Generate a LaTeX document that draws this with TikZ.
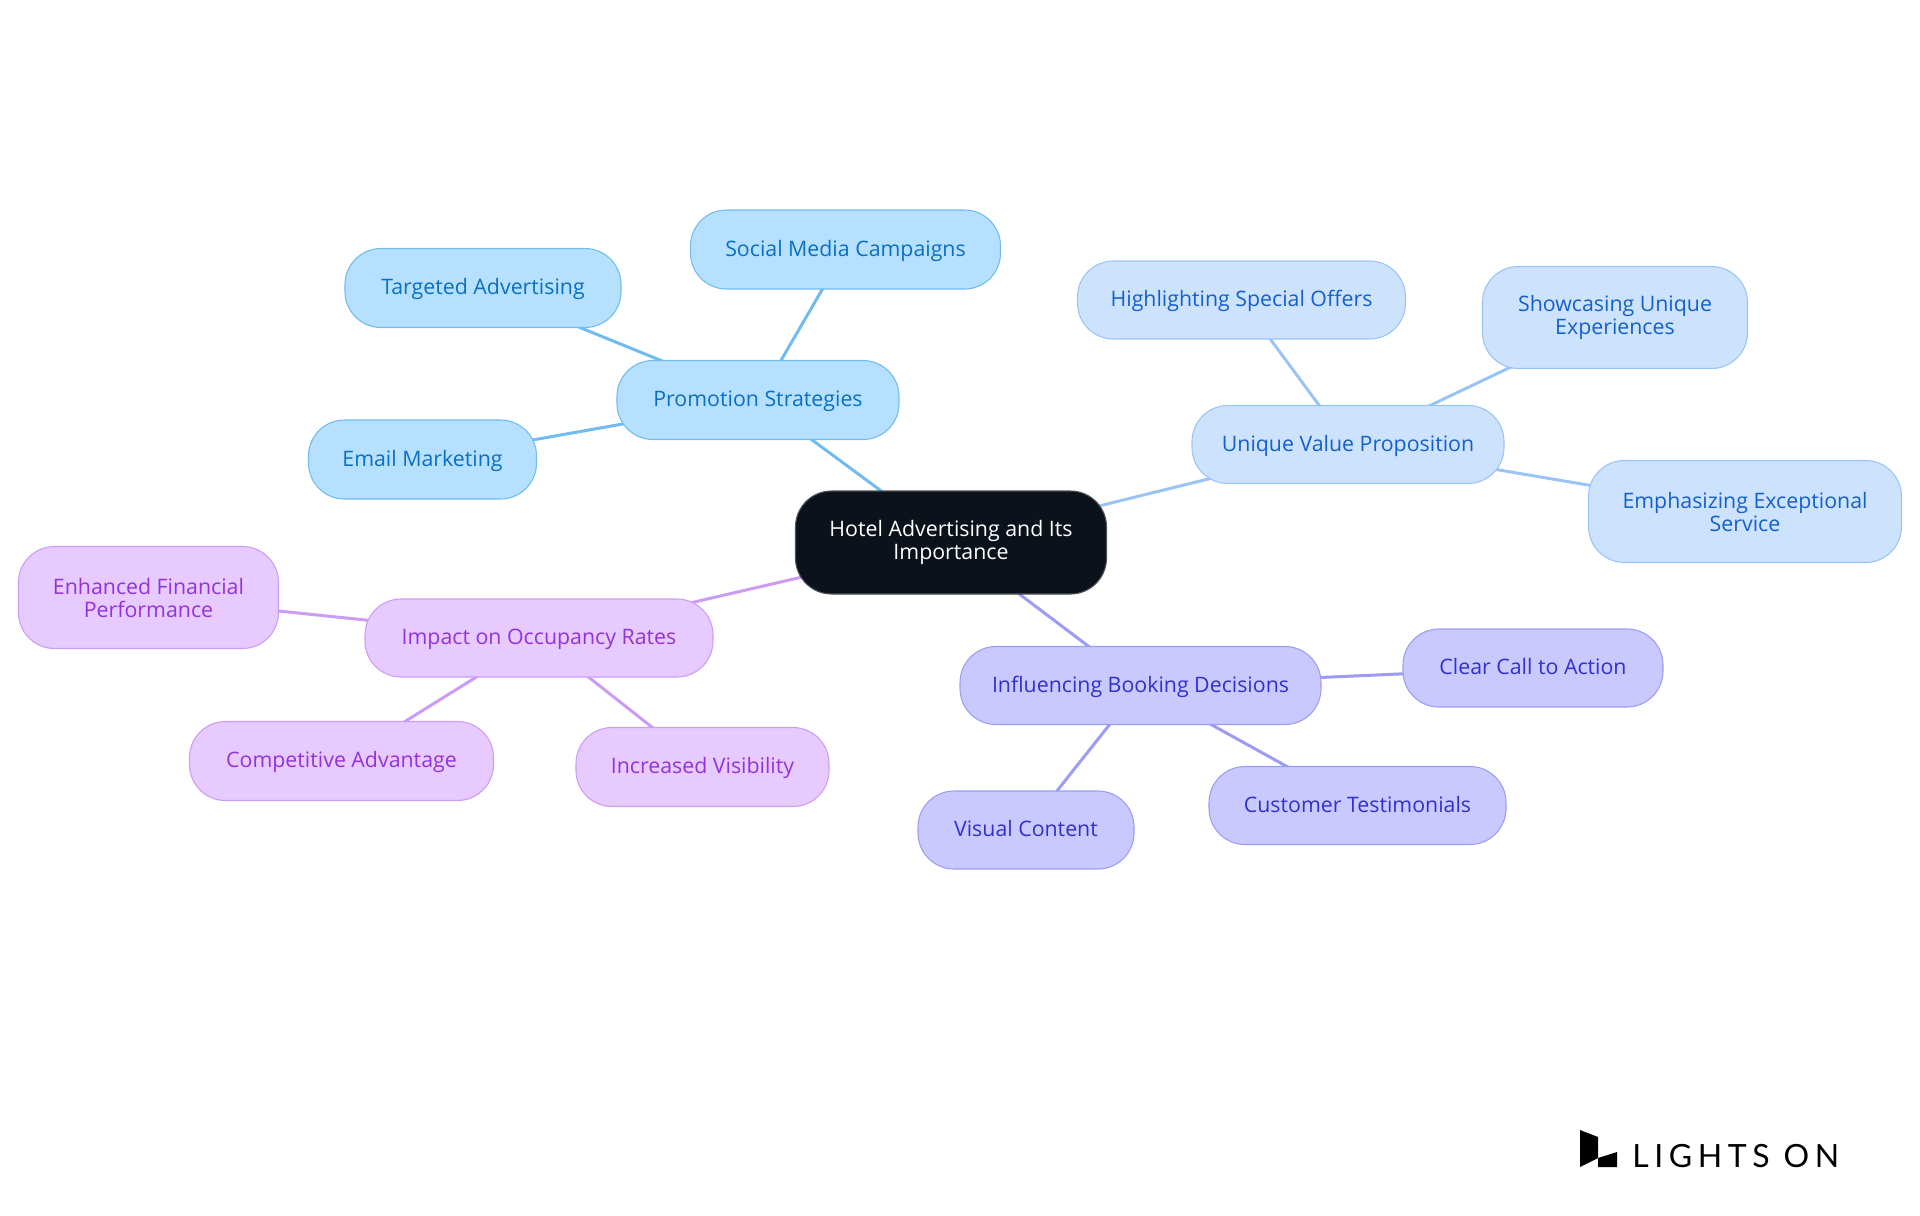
\documentclass[tikz,border=0pt]{standalone}
\usepackage{fontspec}
\setmainfont{Open Sans}
\newfontfamily\logofont[LetterSpace=17.5]{Lato}
\usetikzlibrary{backgrounds}

\definecolor{rootfill}{HTML}{0C121B}
\definecolor{rootline}{HTML}{4D5258}
\definecolor{promofill}{HTML}{B5E0FF}
\definecolor{promoline}{HTML}{70BCEE}
\definecolor{promotext}{HTML}{0B6FC2}
\definecolor{valuefill}{HTML}{CCE2FD}
\definecolor{valueline}{HTML}{9AC4F5}
\definecolor{valuetext}{HTML}{1560CC}
\definecolor{bookfill}{HTML}{C9C9FF}
\definecolor{bookline}{HTML}{9C9CF5}
\definecolor{booktext}{HTML}{3131CC}
\definecolor{impactfill}{HTML}{E7CAFF}
\definecolor{impactline}{HTML}{CC9CF5}
\definecolor{impacttext}{HTML}{9333DB}

\tikzset{
  topic/.style={draw, rounded corners=27pt, inner sep=0pt, line width=0.8pt, align=center, font=\fontsize{16}{17.25}\selectfont},
  size/.style 2 args={minimum width=#1*0.75pt, minimum height=#2*0.75pt},
  oneline/.style={text height=13pt, text depth=2.8pt},
  rootnode/.style={topic, fill=rootfill, draw=rootline, text=white},
  promo/.style={topic, fill=promofill, draw=promoline, text=promotext},
  value/.style={topic, fill=valuefill, draw=valueline, text=valuetext},
  book/.style={topic, fill=bookfill, draw=bookline, text=booktext},
  impact/.style={topic, fill=impactfill, draw=impactline, text=impacttext},
  edge/.style={line width=2.25pt}
}

\begin{document}
\begin{tikzpicture}[x=0.75pt,y=-0.75pt]
  \useasboundingbox (0,0) rectangle (1920,1215);

  \node[rootnode, size={311}{103}] (root) at (951,542.5) {Hotel Advertising and Its\\Importance};

  \node[promo, oneline, size={282}{79}] (promotion) at (758,400) {Promotion Strategies};
  \node[promo, oneline, size={310}{79}] (social) at (845.5,249.5) {Social Media Campaigns};
  \node[promo, oneline, size={276}{79}] (targeted) at (483,288) {Targeted Advertising};
  \node[promo, oneline, size={228}{79}] (email) at (422.5,459.5) {Email Marketing};

  \node[value, oneline, size={312}{78}] (proposition) at (1348,444.5) {Unique Value Proposition};
  \node[value, oneline, size={328}{78}] (offers) at (1241.5,300) {Highlighting Special Offers};
  \node[value, size={265}{102}] (experiences) at (1615,317.5) {Showcasing Unique\\Experiences};
  \node[value, size={313}{102}] (service) at (1745,511.5) {Emphasizing Exceptional\\Service};

  \node[book, oneline, size={361}{78}] (booking) at (1140.5,685.5) {Influencing Booking Decisions};
  \node[book, oneline, size={260}{78}] (action) at (1533,668) {Clear Call to Action};
  \node[book, oneline, size={297}{78}] (testimonials) at (1357.5,805.5) {Customer Testimonials};
  \node[book, oneline, size={216}{78}] (visual) at (1026,830) {Visual Content};

  \node[impact, oneline, size={348}{78}] (occupancy) at (539,638) {Impact on Occupancy Rates};
  \node[impact, size={260}{102}] (financial) at (148.5,597.5) {Enhanced Financial\\Performance};
  \node[impact, oneline, size={304}{79}] (competitive) at (341.5,761) {Competitive Advantage};
  \node[impact, oneline, size={253}{79}] (visibility) at (702.5,767) {Increased Visibility};

  \begin{scope}[on background layer]
    \draw[edge, promoline] (root.center) -- (promotion.center);
    \draw[edge, promoline] (promotion.center) -- (social.center);
    \draw[edge, promoline] (promotion.center) -- (targeted.center);
    \draw[edge, promoline] (promotion.center) -- (email.center);
    \draw[edge, valueline] (root.center) -- (proposition.center);
    \draw[edge, valueline] (proposition.center) -- (offers.center);
    \draw[edge, valueline] (proposition.center) -- (experiences.center);
    \draw[edge, valueline] (proposition.center) -- (service.center);
    \draw[edge, bookline] (root.center) -- (booking.center);
    \draw[edge, bookline] (booking.center) -- (action.center);
    \draw[edge, bookline] (booking.center) -- (testimonials.center);
    \draw[edge, bookline] (booking.center) -- (visual.center);
    \draw[edge, impactline] (root.center) -- (occupancy.center);
    \draw[edge, impactline] (occupancy.center) -- (financial.center);
    \draw[edge, impactline] (occupancy.center) -- (competitive.center);
    \draw[edge, impactline] (occupancy.center) -- (visibility.center);
  \end{scope}

  % logo
  \fill[black] (1580,1130) -- (1598,1137) -- (1598,1158) -- (1580,1167) -- cycle;
  \fill[black] (1598,1158) -- (1617,1152) -- (1617,1167) -- (1598,1167) -- cycle;
  \node[anchor=base west, inner sep=0pt, text=black, font=\logofont\fontsize{24}{24}\selectfont] (logo) at (1632,1167) {LIGHTS ON};
\end{tikzpicture}
\end{document}
